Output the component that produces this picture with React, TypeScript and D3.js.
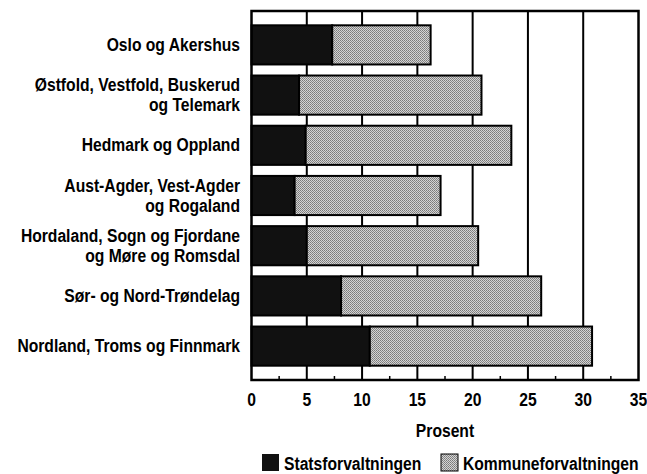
import React from "react";
import * as d3 from "d3";

const categories = [
  "Oslo og Akershus",
  "Østfold, Vestfold, Buskerud|og Telemark",
  "Hedmark og Oppland",
  "Aust-Agder, Vest-Agder|og Rogaland",
  "Hordaland, Sogn og Fjordane|og Møre og Romsdal",
  "Sør- og Nord-Trøndelag",
  "Nordland, Troms og Finnmark",
];
const statsforvaltningen = [7.3, 4.3, 4.9, 3.9, 5.0, 8.1, 10.7];
const kommuneforvaltningen = [8.9, 16.5, 18.6, 13.2, 15.5, 18.1, 20.1];
const xTicks = [0, 5, 10, 15, 20, 25, 30, 35];
const minorTicks = [2.5, 7.5, 12.5, 17.5, 22.5, 27.5, 32.5];
const seriesNames = ["Statsforvaltningen", "Kommuneforvaltningen"];

const W = 647, H = 474;
const font = "'Liberation Sans', Arial, sans-serif";
const SX = 0.87; // condensed look

// narrow text: squeeze horizontally around its anchor
function T(props: { x: number; y: number; anchor?: string; children: any }) {
  return (
    <text transform={`translate(${props.x},${props.y}) scale(${SX},1)`}
      textAnchor={props.anchor || "start"} fontSize={18}>
      {props.children}
    </text>
  );
}

export default function App() {
  const x = d3.scaleLinear().domain([0, 35]).range([251.5, 638.5]);
  const y = d3.scaleBand<string>()
    .domain(categories)
    .range([11, 380])
    .paddingInner(0.22)
    .paddingOuter(0.285);

  const rows = categories.map((c, i) => ({
    cat: c,
    stat: statsforvaltningen[i],
    komm: kommuneforvaltningen[i],
  }));
  const stack = d3.stack<any>().keys(["stat", "komm"])(rows);
  const fills = ["#111", "url(#dither)"];

  return (
    <svg width={W} height={H} style={{ position: "absolute", left: 0, top: 0, background: "#fff" }}
      fontFamily={font} fontWeight="bold">
      <defs>
        <pattern id="dither" width="2" height="2" patternUnits="userSpaceOnUse">
          <rect width="2" height="2" fill="#d4d4d4" />
          <rect width="1" height="1" fill="#7a7a7a" />
          <rect x="1" y="1" width="1" height="1" fill="#8a8a8a" />
        </pattern>
      </defs>

      {/* gridlines */}
      {xTicks.slice(1, -1).map((t) => (
        <line key={t} x1={x(t)} x2={x(t)} y1={11} y2={380} stroke="#000" strokeWidth={2} />
      ))}
      {minorTicks.map((t) => (
        <line key={t} x1={x(t)} x2={x(t)} y1={380} y2={376} stroke="#000" strokeWidth={1.5} />
      ))}

      {/* bars */}
      {stack.map((s, si) =>
        s.map((d: any, i: number) => (
          <rect key={si + "-" + i}
            x={x(d[0])} width={x(d[1]) - x(d[0])}
            y={y(categories[i])!} height={y.bandwidth()}
            fill={fills[si]} stroke="#000" strokeWidth={2} />
        ))
      )}

      {/* frame */}
      <rect x={x(0)} y={11} width={x(35) - x(0)} height={369} fill="none" stroke="#000" strokeWidth={2.5} />

      {/* category labels */}
      {categories.map((c) => {
        const lines = c.split("|");
        const cy = y(c)! + y.bandwidth() / 2;
        const lh = 20;
        return lines.map((l, k) => (
          <T key={c + k} x={240} y={cy + 6 + (k - (lines.length - 1) / 2) * lh} anchor="end">{l}</T>
        ));
      })}

      {/* x axis labels */}
      {xTicks.map((t) => (
        <T key={t} x={x(t)} y={406} anchor="middle">{t}</T>
      ))}
      <T x={(x(0) + x(35)) / 2} y={437} anchor="middle">Prosent</T>

      {/* legend */}
      <rect x={262} y={454} width={17} height={17} fill="#111" />
      <T x={284} y={470}>{seriesNames[0]}</T>
      <rect x={441} y={454} width={17} height={17} fill="url(#dither)" stroke="#000" strokeWidth={1} />
      <T x={463} y={470}>{seriesNames[1]}</T>
    </svg>
  );
}
